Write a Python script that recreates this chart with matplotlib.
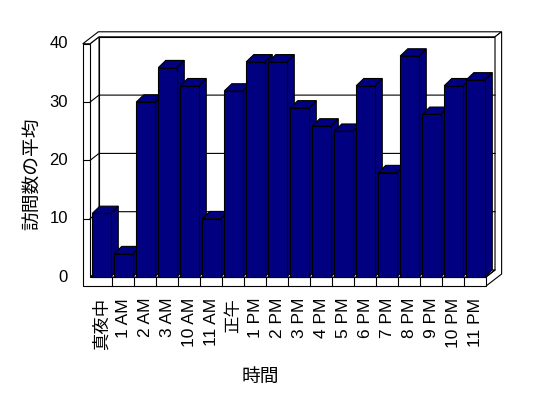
import numpy as np
import matplotlib
matplotlib.use("Agg")
import matplotlib.pyplot as plt
from matplotlib.patches import Polygon

plt.rcParams['font.family'] = ['Liberation Sans', 'Noto Sans CJK JP', 'DejaVu Sans']

# data
hours = ["真夜中", "1 AM", "2 AM", "3 AM", "10 AM", "11 AM", "正午",
         "1 PM", "2 PM", "3 PM", "4 PM", "5 PM", "6 PM", "7 PM",
         "8 PM", "9 PM", "10 PM", "11 PM"]
visits = [10.9, 4.0, 30.0, 35.9, 32.8, 10.0, 31.9, 36.9, 36.9, 29.0,
          25.9, 25.0, 32.8, 17.9, 37.9, 27.9, 32.8, 33.8]
yticks = [0, 10, 20, 30, 40]

n = len(hours)
ymax = 40

# pseudo 3d look (in data units)
dxw, dyw = 0.41, 1.2      # wall depth
tx, ty = 0.3, 0.86        # back wall thickness
wall_t = 0.33             # left wall thickness
floor_t = 1.55            # floor thickness
dxb, dyb = 0.345, 1.25    # bar depth
bar_off, bar_w = 0.1, 0.84
navy = "#000080"
lw = 0.8

fig = plt.figure(figsize=(5.48, 3.98), dpi=100)
ax = fig.add_axes([0, 0, 1, 1])
# 22 px per category, 5.83 px per unit, origin at pixel (90, 277)
ax.set_xlim(-90 / 22, (548 - 90) / 22)
ax.set_ylim((277 - 398) / 5.83, 277 / 5.83)
ax.axis("off")

def poly(pts, z, fc="white"):
    ax.add_patch(Polygon(pts, closed=True, facecolor=fc, edgecolor="black",
                         linewidth=lw, zorder=z, joinstyle="miter"))

# back wall
poly([(dxw, dyw), (n + dxw, dyw), (n + dxw, ymax + dyw), (dxw, ymax + dyw)], 1)
# floor top
poly([(0, 0), (n, 0), (n + dxw, dyw), (dxw, dyw)], 1)
# left wall inner face
poly([(0, 0), (0, ymax), (dxw, ymax + dyw), (dxw, dyw)], 1)
# top of walls
poly([(-wall_t, ymax), (0, ymax), (dxw, ymax + dyw), (n + dxw, ymax + dyw),
      (n + dxw + tx, ymax + dyw + ty), (-wall_t + dxw + tx, ymax + dyw + ty)], 1)
# right side
poly([(n, 0), (n, -floor_t), (n + dxw + tx, -floor_t + dyw + ty),
      (n + dxw + tx, ymax + dyw + ty), (n + dxw, ymax + dyw), (n + dxw, dyw)], 1)
ax.plot([n, n + dxw], [0, dyw], color="black", lw=lw, zorder=2)
# front L face (left wall + floor)
poly([(-wall_t, -floor_t), (n, -floor_t), (n, 0), (0, 0), (0, ymax),
      (-wall_t, ymax)], 1)

# gridlines
for v in yticks[1:-1]:
    ax.plot([0, dxw, n + dxw], [v, v + dyw, v + dyw], color="black", lw=lw, zorder=2)
    ax.plot([-wall_t, 0], [v, v], color="black", lw=lw, zorder=2)
for i in range(1, n):
    ax.plot([i, i], [0, -floor_t], color="black", lw=lw, zorder=2)

# bars
for i, v in enumerate(visits):
    x0 = i + bar_off
    x1 = x0 + bar_w
    z = 10 + i
    poly([(x1, 0), (x1, v), (x1 + dxb, v + dyb), (x1 + dxb, dyb)], z, navy)
    poly([(x0, v), (x1, v), (x1 + dxb, v + dyb), (x0 + dxb, v + dyb)], z, navy)
    ax.bar(x0, v, width=bar_w, align="edge", color=navy, edgecolor="black",
           linewidth=lw, zorder=z)

# tick labels
for v in yticks:
    ax.text(-1.0, v, str(v), ha="right", va="center", fontsize=12)
for i, h in enumerate(hours):
    ax.text(i + 0.5, -3.6, h, rotation=90, ha="center", va="top", fontsize=12.5)

fig.text(260 / 548, 1 - 377 / 398, "時間", ha="center", va="center", fontsize=13.5)
fig.text(33 / 548, 1 - 174 / 398, "訪問数の平均", rotation=90, ha="center",
         va="center", fontsize=13.5)

fig.savefig("out.png", dpi=100)
